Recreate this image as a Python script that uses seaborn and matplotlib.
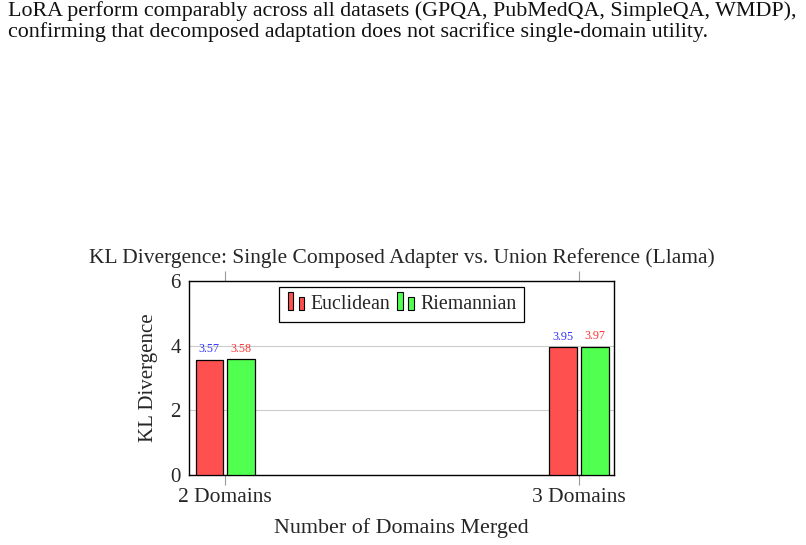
import matplotlib
matplotlib.use("Agg")
import matplotlib.pyplot as plt
import seaborn as sns
import pandas as pd
from matplotlib.patches import Rectangle
from matplotlib.legend_handler import HandlerBase

categories = ["2 Domains", "3 Domains"]
methods = ["Euclidean", "Riemannian"]
euclidean = [3.57, 3.95]
riemannian = [3.58, 3.97]
title = "KL Divergence: Single Composed Adapter vs. Union Reference (Llama)"
xlabel = "Number of Domains Merged"
ylabel = "KL Divergence"
yticks = [0, 2, 4, 6]
page_lines = [
    "LoRA perform comparably across all datasets (GPQA, PubMedQA, SimpleQA, WMDP),",
    "confirming that decomposed adaptation does not sacrifice single-domain utility.",
]

df = pd.DataFrame({
    "cat": categories * 2,
    "method": [methods[0]] * 2 + [methods[1]] * 2,
    "kl": euclidean + riemannian,
})

sns.set_theme(style="white")
plt.rcParams["font.family"] = ["Liberation Serif", "DejaVu Serif"]

W, H = 806, 545
fig = plt.figure(figsize=(W / 100, H / 100), dpi=100)

# page text
fig.text(8 / W, 1 - 11 / H, page_lines[0], fontsize=15.8, va="center", ha="left", color="#111111")
fig.text(8 / W, 1 - 32 / H, page_lines[1], fontsize=15.8, va="center", ha="left", color="#111111")

L, R, T, B = 189, 614, 281, 475
ax = fig.add_axes([L / W, 1 - B / H, (R - L) / W, (B - T) / H])

colors = {"Euclidean": "#ff5050", "Riemannian": "#50ff50"}
sns.barplot(data=df, x="cat", y="kl", hue="method", palette=colors, width=0.18, gap=0.145,
            edgecolor="black", linewidth=0.9, saturation=1, ax=ax, legend=False, zorder=3)

ax.set_xlim(-0.102, 1.099)
ax.set_ylim(0, 6)
ax.set_yticks(yticks)
ax.set_yticklabels([str(v) for v in yticks], fontsize=15)
ax.set_xticks([0, 1])
ax.set_xticklabels(categories, fontsize=15.5)
ax.tick_params(axis="x", direction="out", length=7, width=0.8, color="#999999", pad=2,
               top=True, bottom=True)
ax.tick_params(axis="y", length=0, pad=6)
ax.yaxis.grid(True, color="#cccccc", linewidth=0.8, zorder=0)
ax.set_axisbelow(True)
for s in ax.spines.values():
    s.set_color("black")
    s.set_linewidth(1.0)
    s.set_visible(True)

ax.set_xlabel(xlabel, fontsize=15.8, labelpad=8)
ax.set_ylabel(ylabel, fontsize=15, labelpad=9)
ax.set_title(title, fontsize=15.5, pad=13)

# value labels
label_colors = ["#3333ff", "#ff3333"]
for container, lc in zip(ax.containers, label_colors):
    ax.bar_label(container, fmt="%.2f", color=lc, fontsize=8.7, padding=3)


class TwoBarHandler(HandlerBase):
    def create_artists(self, legend, orig_handle, xdescent, ydescent, width, height, fontsize, trans):
        fc = orig_handle.get_facecolor()
        bw = width * 0.28
        r1 = Rectangle((-xdescent + width * 0.05, -ydescent - 1), bw, height + 3, facecolor=fc,
                       edgecolor="black", linewidth=0.8, transform=trans)
        r2 = Rectangle((-xdescent + width * 0.60, -ydescent - 1), bw, height * 0.75 + 2, facecolor=fc,
                       edgecolor="black", linewidth=0.8, transform=trans)
        return [r1, r2]


handles = [Rectangle((0, 0), 1, 1, facecolor=colors[m]) for m in methods]
leg = ax.legend(handles, methods, loc="upper center", bbox_to_anchor=(0.5, 0.97), ncol=2,
                fontsize=14.3, frameon=True, fancybox=False, edgecolor="black", framealpha=1,
                handler_map={Rectangle: TwoBarHandler()}, handlelength=1.0, handletextpad=0.2,
                columnspacing=0.3, borderpad=0.4, borderaxespad=0)
leg.get_frame().set_linewidth(0.9)

fig.savefig("out.png", dpi=100, facecolor="white")
